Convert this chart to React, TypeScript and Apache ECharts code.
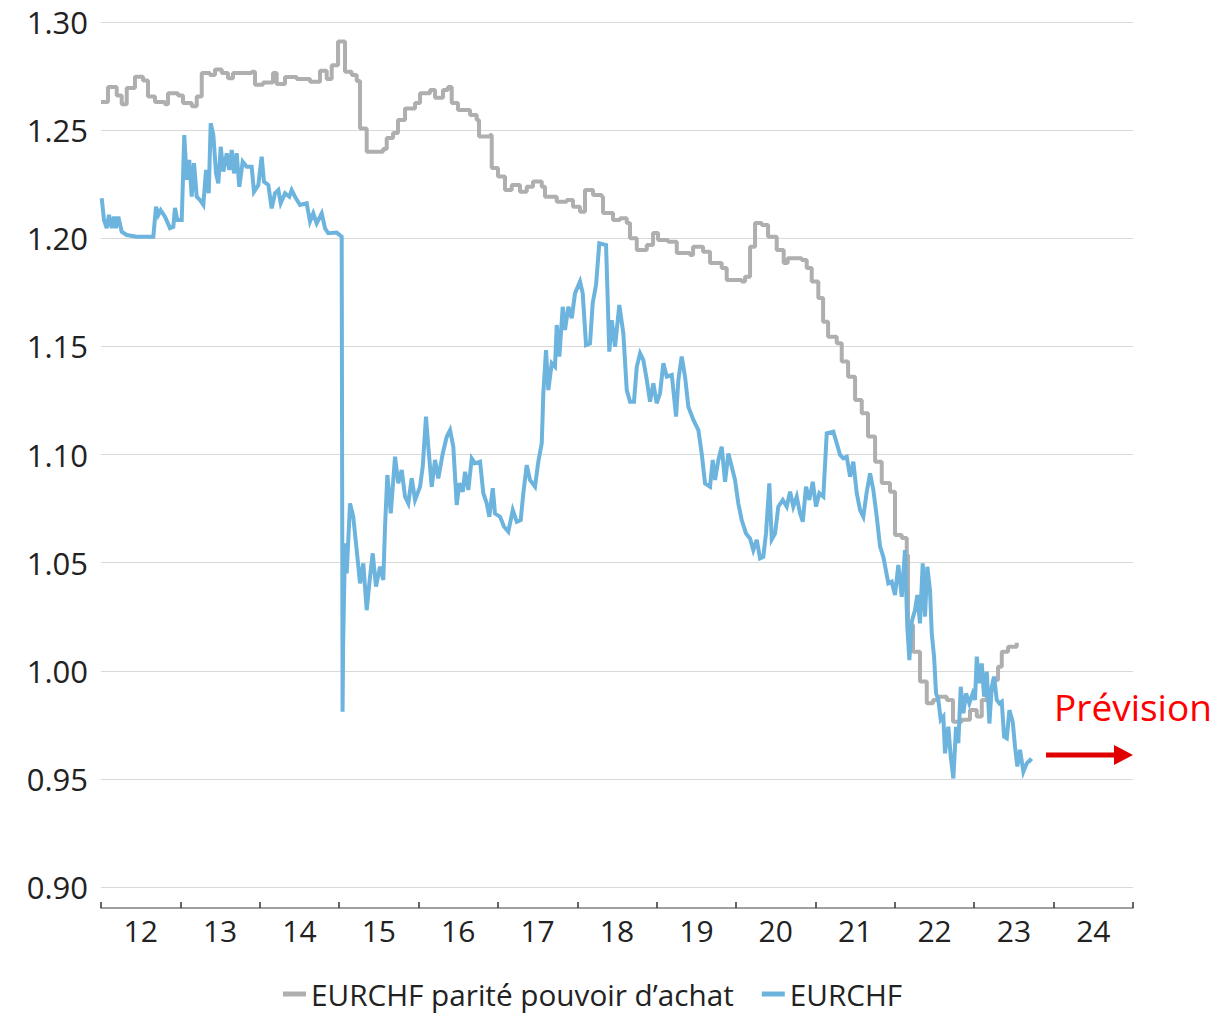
import React, { useEffect, useRef } from "react";
import * as echarts from "echarts";

const yearLabels = ["12", "13", "14", "15", "16", "17", "18", "19", "20", "21", "22", "23", "24"];
const yTicks = { min: 0.9, max: 1.3, interval: 0.05 };

// EURCHF parité pouvoir d'achat (step series): [decimal year, level]
const eurchfPPP: [number, number][] = [
  [2012.0, 1.263], [2012.088, 1.27], [2012.198, 1.266], [2012.261, 1.262], [2012.324, 1.2695],
  [2012.428, 1.2747], [2012.529, 1.273], [2012.592, 1.2655], [2012.68, 1.263], [2012.806, 1.262],
  [2012.844, 1.267], [2012.97, 1.266], [2013.033, 1.2625], [2013.143, 1.261], [2013.206, 1.2655],
  [2013.269, 1.2764], [2013.373, 1.2755], [2013.436, 1.278], [2013.521, 1.2764], [2013.6, 1.274],
  [2013.663, 1.2764], [2013.898, 1.277], [2013.94, 1.271], [2014.041, 1.272], [2014.167, 1.2764],
  [2014.213, 1.2713], [2014.318, 1.2746], [2014.465, 1.2736], [2014.633, 1.2724], [2014.759, 1.2775],
  [2014.843, 1.2736], [2014.906, 1.28], [2014.986, 1.291], [2015.074, 1.277], [2015.158, 1.2755],
  [2015.221, 1.2727], [2015.263, 1.2508], [2015.347, 1.24], [2015.553, 1.2413], [2015.599, 1.2464],
  [2015.679, 1.2487], [2015.741, 1.2547], [2015.83, 1.26], [2015.956, 1.2625], [2016.019, 1.267],
  [2016.145, 1.2686], [2016.208, 1.265], [2016.308, 1.2686], [2016.371, 1.27], [2016.418, 1.2625],
  [2016.497, 1.2593], [2016.649, 1.257], [2016.733, 1.2547], [2016.762, 1.247], [2016.9, 1.2477],
  [2016.922, 1.2325], [2017.001, 1.2285], [2017.089, 1.2223], [2017.174, 1.2246], [2017.278, 1.2215],
  [2017.363, 1.2238], [2017.442, 1.2262], [2017.552, 1.2238], [2017.593, 1.2192], [2017.741, 1.2169],
  [2017.867, 1.2177], [2017.946, 1.2146], [2018.034, 1.2123], [2018.097, 1.2223], [2018.198, 1.22],
  [2018.308, 1.2192], [2018.324, 1.2117], [2018.45, 1.2084], [2018.538, 1.2093], [2018.623, 1.207],
  [2018.664, 1.2], [2018.749, 1.1946], [2018.875, 1.1969], [2018.954, 1.2024], [2019.017, 1.1992],
  [2019.143, 1.1984], [2019.253, 1.1932], [2019.42, 1.1923], [2019.458, 1.1961], [2019.584, 1.1938],
  [2019.672, 1.1885], [2019.819, 1.1862], [2019.882, 1.1807], [2020.071, 1.18], [2020.113, 1.1822],
  [2020.176, 1.1961], [2020.239, 1.207], [2020.323, 1.2061], [2020.403, 1.2007], [2020.512, 1.1946],
  [2020.6, 1.1885], [2020.65, 1.1908], [2020.827, 1.19], [2020.89, 1.1862], [2020.953, 1.18],
  [2021.036, 1.1724], [2021.096, 1.1614], [2021.159, 1.1545], [2021.268, 1.1515], [2021.331, 1.143],
  [2021.411, 1.136], [2021.499, 1.1252], [2021.583, 1.1191], [2021.662, 1.1083], [2021.751, 1.0967],
  [2021.835, 1.0868], [2021.939, 1.0828], [2022.002, 1.0628], [2022.087, 1.0614], [2022.15, 1.0535],
  [2022.166, 1.0212], [2022.229, 1.0088], [2022.317, 0.995], [2022.402, 0.985], [2022.481, 0.9865],
  [2022.544, 0.988], [2022.654, 0.9865], [2022.733, 0.9764], [2022.843, 0.9773], [2022.947, 0.9818],
  [2023.032, 0.9788], [2023.095, 0.9865], [2023.158, 0.9911], [2023.237, 0.9957], [2023.3, 1.0019],
  [2023.347, 1.0088], [2023.426, 1.0111], [2023.536, 1.013],
];

// EURCHF spot: [decimal year, rate]
const eurchfSpot: [number, number][] = [
  [2012.009, 1.2185], [2012.038, 1.2084], [2012.072, 1.2047], [2012.101, 1.2108], [2012.135, 1.2047],
  [2012.164, 1.21], [2012.189, 1.2047], [2012.218, 1.21], [2012.261, 1.203], [2012.324, 1.2015],
  [2012.45, 1.2007], [2012.659, 1.2007], [2012.693, 1.2146], [2012.722, 1.2108], [2012.752, 1.213],
  [2012.806, 1.21], [2012.869, 1.2047], [2012.911, 1.2053], [2012.932, 1.214], [2012.961, 1.2084],
  [2013.017, 1.2084], [2013.049, 1.2477], [2013.08, 1.227], [2013.112, 1.2362], [2013.143, 1.2192],
  [2013.172, 1.2347], [2013.206, 1.2192], [2013.247, 1.2177], [2013.289, 1.2154], [2013.323, 1.2316],
  [2013.357, 1.2208], [2013.382, 1.2532], [2013.415, 1.2477], [2013.449, 1.23], [2013.478, 1.2254],
  [2013.508, 1.2423], [2013.541, 1.2308], [2013.584, 1.2393], [2013.616, 1.2316], [2013.647, 1.2408],
  [2013.675, 1.23], [2013.709, 1.2393], [2013.742, 1.2238], [2013.785, 1.2354], [2013.835, 1.2331],
  [2013.898, 1.2331], [2013.927, 1.2215], [2013.982, 1.2246], [2014.024, 1.2377], [2014.053, 1.2262],
  [2014.108, 1.2246], [2014.15, 1.2138], [2014.192, 1.2208], [2014.234, 1.2223], [2014.264, 1.2162],
  [2014.318, 1.2208], [2014.372, 1.2192], [2014.402, 1.2223], [2014.444, 1.2192], [2014.507, 1.2154],
  [2014.591, 1.2162], [2014.633, 1.2077], [2014.674, 1.2115], [2014.717, 1.2069], [2014.78, 1.2115],
  [2014.822, 1.2046], [2014.863, 1.2023], [2014.969, 1.2026], [2015.032, 1.2007], [2015.043, 0.981],
  [2015.05, 1.012], [2015.074, 1.0589], [2015.095, 1.045], [2015.137, 1.0774], [2015.178, 1.0712],
  [2015.221, 1.0558], [2015.263, 1.0404], [2015.304, 1.0497], [2015.347, 1.028], [2015.389, 1.0435],
  [2015.423, 1.0543], [2015.464, 1.0389], [2015.515, 1.0481], [2015.556, 1.042], [2015.578, 1.0666],
  [2015.607, 1.0905], [2015.65, 1.0728], [2015.704, 1.099], [2015.745, 1.0867], [2015.788, 1.0928],
  [2015.83, 1.0805], [2015.871, 1.0774], [2015.914, 1.089], [2015.956, 1.079], [2016.019, 1.0851],
  [2016.053, 1.0944], [2016.094, 1.1175], [2016.123, 1.1036], [2016.166, 1.0851], [2016.208, 1.0975],
  [2016.249, 1.089], [2016.305, 1.1005], [2016.355, 1.1082], [2016.397, 1.1113], [2016.438, 1.1036],
  [2016.481, 1.0767], [2016.514, 1.0867], [2016.557, 1.0828], [2016.586, 1.092], [2016.627, 1.0836],
  [2016.67, 1.0982], [2016.712, 1.0959], [2016.775, 1.0967], [2016.816, 1.0821], [2016.859, 1.0774],
  [2016.892, 1.0712], [2016.935, 1.0844], [2016.963, 1.0728], [2017.027, 1.0712], [2017.077, 1.0666],
  [2017.131, 1.0643], [2017.187, 1.0743], [2017.237, 1.0689], [2017.287, 1.0697], [2017.32, 1.0821],
  [2017.363, 1.0951], [2017.404, 1.0882], [2017.467, 1.0851], [2017.509, 1.0967], [2017.552, 1.1052],
  [2017.572, 1.1283], [2017.606, 1.1483], [2017.635, 1.1298], [2017.678, 1.1422], [2017.719, 1.1406],
  [2017.741, 1.1599], [2017.774, 1.1453], [2017.816, 1.1683], [2017.845, 1.1576], [2017.887, 1.1683],
  [2017.93, 1.163], [2017.971, 1.1745], [2018.034, 1.18], [2018.068, 1.1745], [2018.11, 1.1506],
  [2018.16, 1.1514], [2018.194, 1.17], [2018.236, 1.1784], [2018.277, 1.1977], [2018.362, 1.1969],
  [2018.403, 1.1476], [2018.434, 1.1621], [2018.475, 1.1498], [2018.529, 1.1691], [2018.58, 1.156],
  [2018.623, 1.1298], [2018.664, 1.1244], [2018.714, 1.1244], [2018.749, 1.1406], [2018.791, 1.1468],
  [2018.832, 1.1437], [2018.875, 1.1345], [2018.916, 1.1244], [2018.958, 1.1329], [2019.0, 1.1237],
  [2019.042, 1.1283], [2019.084, 1.1422], [2019.127, 1.136], [2019.19, 1.1368], [2019.244, 1.1175],
  [2019.273, 1.1345], [2019.315, 1.1453], [2019.357, 1.136], [2019.399, 1.1221], [2019.462, 1.116],
  [2019.525, 1.1113], [2019.567, 1.1005], [2019.609, 1.0867], [2019.672, 1.0851], [2019.706, 1.0975],
  [2019.735, 1.0882], [2019.777, 1.0975], [2019.819, 1.1036], [2019.861, 1.0874], [2019.903, 1.1005],
  [2019.945, 1.0944], [2019.987, 1.0882], [2020.028, 1.0774], [2020.071, 1.0697], [2020.125, 1.0635],
  [2020.176, 1.0612], [2020.217, 1.0558], [2020.26, 1.0605], [2020.302, 1.052], [2020.343, 1.0527],
  [2020.377, 1.0635], [2020.419, 1.0867], [2020.449, 1.0607], [2020.491, 1.0635], [2020.532, 1.0759],
  [2020.588, 1.079], [2020.638, 1.0759], [2020.68, 1.0828], [2020.721, 1.0759], [2020.764, 1.0805],
  [2020.806, 1.0728], [2020.84, 1.0689], [2020.881, 1.0851], [2020.923, 1.079], [2020.966, 1.0874],
  [2021.007, 1.0759], [2021.049, 1.0821], [2021.099, 1.0805], [2021.142, 1.1098], [2021.225, 1.1106],
  [2021.268, 1.1052], [2021.31, 1.0998], [2021.351, 1.0982], [2021.394, 1.099], [2021.436, 1.0897],
  [2021.477, 1.0967], [2021.52, 1.0821], [2021.562, 1.0743], [2021.603, 1.0712], [2021.646, 1.0828],
  [2021.688, 1.0913], [2021.729, 1.0836], [2021.772, 1.0712], [2021.814, 1.0574], [2021.855, 1.0527],
  [2021.898, 1.0443], [2021.918, 1.0404], [2021.961, 1.0412], [2022.002, 1.035], [2022.044, 1.0489],
  [2022.087, 1.0342], [2022.128, 1.0558], [2022.157, 1.0204], [2022.183, 1.0049], [2022.213, 1.0227],
  [2022.254, 1.0281], [2022.283, 1.035], [2022.317, 1.0219], [2022.351, 1.0497], [2022.38, 1.025],
  [2022.409, 1.0481], [2022.443, 1.0373], [2022.465, 1.0173], [2022.494, 1.0065], [2022.519, 0.9895],
  [2022.548, 0.9865], [2022.578, 0.9773], [2022.611, 0.9788], [2022.632, 0.9618], [2022.674, 0.9741],
  [2022.704, 0.9603], [2022.737, 0.9502], [2022.771, 0.9741], [2022.8, 0.9665], [2022.83, 0.9926],
  [2022.863, 0.9803], [2022.897, 0.9895], [2022.938, 0.9849], [2022.981, 0.9895], [2023.01, 0.9865],
  [2023.032, 1.0065], [2023.064, 0.9942], [2023.095, 1.0034], [2023.124, 0.988], [2023.158, 0.9996],
  [2023.191, 0.9756], [2023.221, 0.9926], [2023.25, 0.9973], [2023.284, 0.9865], [2023.317, 0.9849],
  [2023.347, 0.9857], [2023.376, 0.9696], [2023.41, 0.9688], [2023.443, 0.9818], [2023.485, 0.9764],
  [2023.514, 0.9649], [2023.543, 0.9557], [2023.577, 0.9634], [2023.619, 0.9533], [2023.662, 0.9572],
  [2023.703, 0.9587], [2023.725, 0.958],
];

const seriesNames = ["EURCHF parité pouvoir d\u2019achat", "EURCHF"];
const seriesColors = ["#afafaf", "#6cb4dd"];
const forecastLabel = "Prévision";

const FONT = "'Open Sans', 'Noto Sans', sans-serif";

export default function App() {
  const ref = useRef<HTMLDivElement>(null);
  useEffect(() => {
    if (!ref.current) return;
    const chart = echarts.init(ref.current, undefined, { renderer: "svg" });
    chart.setOption({
      animation: false,
      backgroundColor: "#ffffff",
      textStyle: { fontFamily: FONT },
      grid: { left: 101, right: 84, top: 22, bottom: 127, containLabel: false },
      legend: {
        left: 278,
        top: 974,
        itemWidth: 23,
        itemHeight: 5,
        itemGap: 28,
        icon: "rect",
        data: seriesNames,
        textStyle: { fontFamily: FONT, fontSize: 29.7, color: "#222" },
      },
      xAxis: [
        { type: "value", min: 2012, max: 2025, show: false },
        {
          type: "category",
          data: yearLabels,
          position: "bottom",
          offset: 21,
          boundaryGap: true,
          axisLine: { show: true, lineStyle: { color: "#7f7f7f", width: 1.5 } },
          axisTick: { show: true, inside: true, length: 6, lineStyle: { color: "#333", width: 1.5 } },
          axisLabel: { color: "#222", fontSize: 30, margin: 7, fontFamily: FONT },
          splitLine: { show: false },
        },
      ],
      yAxis: {
        type: "value",
        min: yTicks.min,
        max: yTicks.max,
        interval: yTicks.interval,
        axisLine: { show: false },
        axisTick: { show: false },
        axisLabel: {
          color: "#222",
          fontSize: 31,
          margin: 13,
          fontFamily: FONT,
          formatter: (v: number) => v.toFixed(2),
        },
        splitLine: { show: true, lineStyle: { color: "#d9d9d9", width: 1 } },
      },
      series: [
        {
          name: seriesNames[0],
          type: "line",
          xAxisIndex: 0,
          step: "end",
          data: eurchfPPP,
          showSymbol: false,
          color: seriesColors[0],
          lineStyle: { color: seriesColors[0], width: 4 },
          z: 2,
        },
        {
          name: seriesNames[1],
          type: "line",
          xAxisIndex: 0,
          data: eurchfSpot,
          showSymbol: false,
          color: seriesColors[1],
          lineStyle: { color: seriesColors[1], width: 4, join: "miter" },
          z: 3,
        },
      ],
      graphic: [
        {
          type: "text",
          left: 1054,
          top: 688,
          style: { text: forecastLabel, fill: "#ff0000", fontSize: 37, fontFamily: FONT },
        },
        {
          type: "line",
          shape: { x1: 1046, y1: 755, x2: 1118, y2: 755 },
          style: { stroke: "#e00000", lineWidth: 5 },
        },
        {
          type: "polygon",
          shape: { points: [[1114, 745], [1133, 755], [1114, 765]] },
          style: { fill: "#e00000" },
        },
      ],
    });
    return () => chart.dispose();
  }, []);
  return (
    <div
      ref={ref}
      style={{ position: "fixed", left: 0, top: 0, width: 1217, height: 1014 }}
    />
  );
}
